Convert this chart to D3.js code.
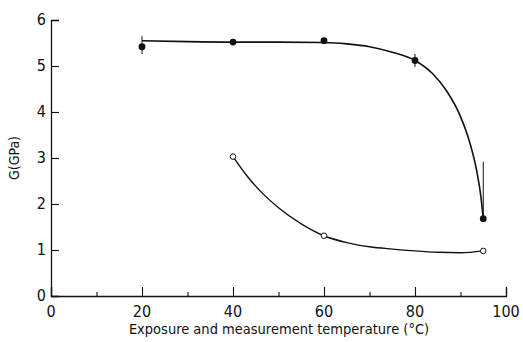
<html>
<head>
<style>
  body { margin: 0; background: #fff; }
  text { font-family: "DejaVu Sans Condensed", "DejaVu Sans", sans-serif; fill: #111; }
</style>
<script src="https://cdn.jsdelivr.net/npm/d3@7"></script>
</head>
<body>
<svg id="chart"></svg>
<script>
// measured points, filled = as-exposed, open = second series
var filledT = [20, 40, 60, 80, 95];
var filledG = [5.42, 5.52, 5.55, 5.12, 1.68];
var filledErr = [[5.26, 5.65], null, null, [4.98, 5.26], [1.68, 2.92]];

var openT = [40, 60, 95];
var openG = [3.03, 1.31, 0.98];

// fitted curves
var filledCurveT = [20, 30, 40, 50, 60, 65, 70, 75, 80, 84, 87, 90, 92, 93.5, 94.5, 95];
var filledCurveG = [5.55, 5.53, 5.52, 5.52, 5.51, 5.48, 5.42, 5.3, 5.12, 4.82, 4.45, 3.9, 3.35, 2.75, 2.15, 1.68];
var openCurveT = [40, 43, 46, 50, 55, 60, 65, 70, 75, 80, 85, 90, 95];
var openCurveG = [3.03, 2.62, 2.28, 1.92, 1.57, 1.31, 1.16, 1.07, 1.02, 0.98, 0.95, 0.94, 0.98];

var xTicks = [0, 20, 40, 60, 80, 100];
var xMinor = [10, 30, 50, 70, 90];
var yTicks = [0, 1, 2, 3, 4, 5, 6];

var W = 523, H = 342;
var svg = d3.select("#chart").attr("width", W).attr("height", H);

var x = d3.scaleLinear().domain([0, 100]).range([51, 506]);
var y = d3.scaleLinear().domain([0, 6]).range([296, 20]);

var ink = "#111";

// axes
svg.append("g").attr("transform", "translate(0," + y(0) + ")")
    .call(d3.axisTop(x).tickValues(xTicks).tickSize(9).tickFormat(""));
svg.append("g").attr("transform", "translate(0," + y(0) + ")")
    .call(d3.axisTop(x).tickValues(xMinor).tickSize(4).tickFormat(""))
    .select(".domain").remove();
svg.append("g").attr("transform", "translate(" + x(0) + ",0)")
    .call(d3.axisRight(y).tickValues(yTicks).tickSize(8).tickFormat(""));

svg.selectAll(".domain").attr("stroke", ink).attr("stroke-width", 1.3);
svg.selectAll(".tick line").attr("stroke", ink).attr("stroke-width", 1.1);

svg.append("g").selectAll("text").data(xTicks).enter().append("text")
    .attr("x", function (d) { return x(d); })
    .attr("y", 317)
    .attr("text-anchor", "middle")
    .attr("font-size", 16)
    .text(function (d) { return d; });

svg.append("g").selectAll("text").data(yTicks).enter().append("text")
    .attr("x", 46)
    .attr("y", function (d) { return y(d) + 5; })
    .attr("text-anchor", "end")
    .attr("font-size", 16)
    .text(function (d) { return d; });

svg.append("text")
    .attr("x", 279).attr("y", 334)
    .attr("text-anchor", "middle")
    .attr("font-size", 14.5)
    .text("Exposure and measurement temperature (\u00b0C)");

svg.append("text")
    .attr("transform", "translate(19,158) rotate(-90)")
    .attr("text-anchor", "middle")
    .attr("font-size", 14)
    .text("G(GPa)");

// curves
var line = d3.line()
    .x(function (d) { return x(d[0]); })
    .y(function (d) { return y(d[1]); })
    .curve(d3.curveMonotoneX);

svg.append("path")
    .attr("d", line(d3.zip(filledCurveT, filledCurveG)))
    .attr("fill", "none").attr("stroke", ink).attr("stroke-width", 1.6);
svg.append("path")
    .attr("d", line(d3.zip(openCurveT, openCurveG)))
    .attr("fill", "none").attr("stroke", ink).attr("stroke-width", 1.4);

// error bars
svg.append("g").selectAll("line")
    .data(filledT.map(function (t, i) { return [t, filledErr[i]]; }).filter(function (d) { return d[1]; }))
    .enter().append("line")
    .attr("x1", function (d) { return x(d[0]); })
    .attr("x2", function (d) { return x(d[0]); })
    .attr("y1", function (d) { return y(d[1][0]); })
    .attr("y2", function (d) { return y(d[1][1]); })
    .attr("stroke", ink).attr("stroke-width", 1);

// markers
svg.append("g").selectAll("circle").data(d3.zip(filledT, filledG)).enter().append("circle")
    .attr("cx", function (d) { return x(d[0]); })
    .attr("cy", function (d) { return y(d[1]); })
    .attr("r", 3.4)
    .attr("fill", ink);

svg.append("g").selectAll("circle").data(d3.zip(openT, openG)).enter().append("circle")
    .attr("cx", function (d) { return x(d[0]); })
    .attr("cy", function (d) { return y(d[1]); })
    .attr("r", 2.8)
    .attr("fill", "#fff")
    .attr("stroke", ink)
    .attr("stroke-width", 1);
</script>
</body>
</html>
